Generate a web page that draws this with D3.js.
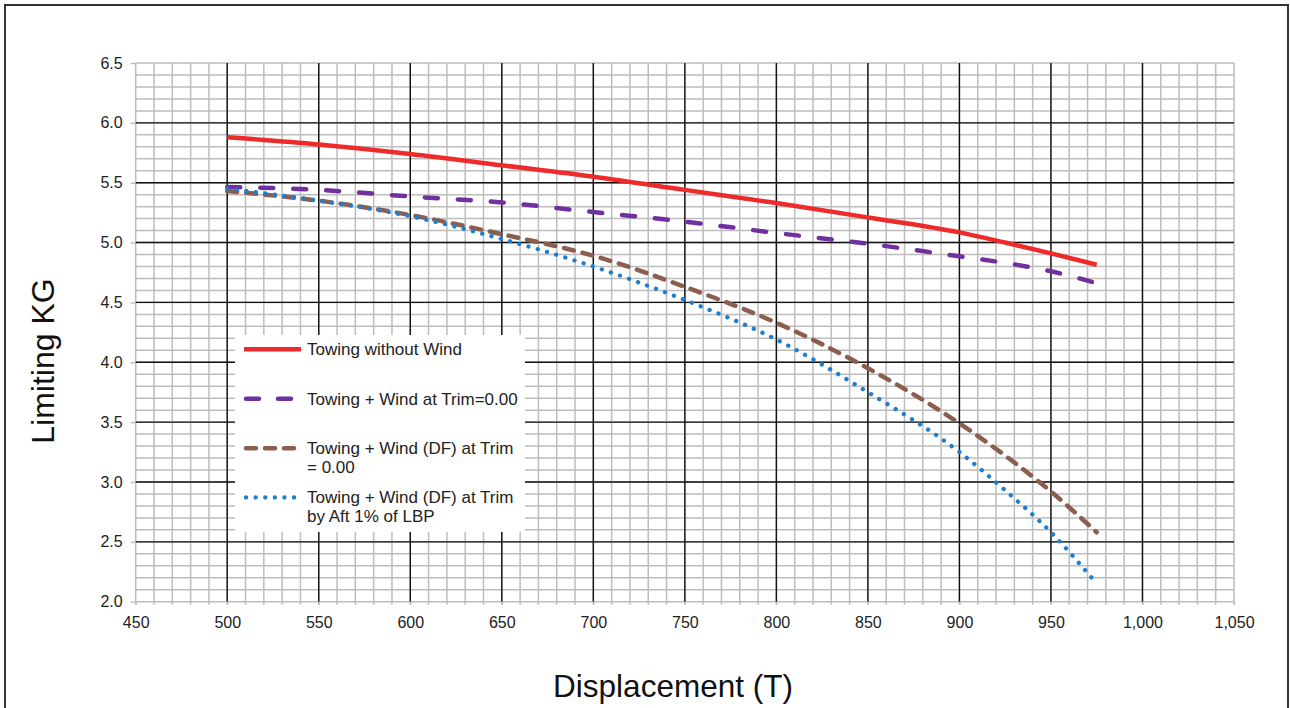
<!DOCTYPE html>
<html>
<head>
<meta charset="utf-8">
<script src="https://cdn.jsdelivr.net/npm/d3@7"></script>
<style>
  body { margin: 0; background: #fff; }
  text { font-family: "Liberation Sans", Arial, sans-serif; }
</style>
</head>
<body>
<svg width="1290" height="708"></svg>
<script>
// displacement (T) values
let displacement = [500, 550, 600, 650, 700, 750, 800, 850, 900, 925, 950, 975];

let towingNoWind = [5.88, 5.82, 5.74, 5.645, 5.55, 5.44, 5.33, 5.21, 5.085, 5.0, 4.91, 4.815];
let towingWind = [5.465, 5.44, 5.385, 5.335, 5.255, 5.175, 5.08, 4.99, 4.885, 4.83, 4.76, 4.66];
let towingWindDF = [5.43, 5.35, 5.23, 5.07, 4.89, 4.63, 4.33, 3.95, 3.49, 3.22, 2.92, 2.58];
let towingWindDFAft = [5.45, 5.35, 5.22, 5.03, 4.8, 4.52, 4.19, 3.75, 3.25, 2.93, 2.58, 2.15];

let seriesNames = [
  ['Towing without Wind'],
  ['Towing + Wind at Trim=0.00'],
  ['Towing + Wind (DF) at Trim', '= 0.00'],
  ['Towing + Wind (DF) at Trim', 'by Aft 1% of LBP'],
];

let xTicks = d3.range(450, 1051, 50);
let yTicks = d3.range(20, 66, 5).map((d) => d / 10);

let svg = d3.select('svg');

let x = d3.scaleLinear().domain([450, 1050]).range([135.7, 1234]);
let y = d3.scaleLinear().domain([2, 6.5]).range([601.7, 63]);

// outer frame
svg.append('rect')
  .attr('x', 5).attr('y', 5)
  .attr('width', 1283).attr('height', 720)
  .attr('fill', 'none')
  .attr('stroke', '#333')
  .attr('stroke-width', 2);

// grid
let grid = svg.append('g').classed('grid', true);
let minorX = d3.range(450, 1051, 10);
let minorY = d3.range(20, 66, 1).map((d) => d / 10);

grid.selectAll('line.mx').data(minorX).enter().append('line')
  .attr('x1', (d) => x(d)).attr('x2', (d) => x(d))
  .attr('y1', y(6.5)).attr('y2', y(2) + 3)
  .attr('stroke', '#bdbdbd').attr('stroke-width', 1.5);

grid.selectAll('line.my').data(minorY).enter().append('line')
  .attr('y1', (d) => y(d)).attr('y2', (d) => y(d))
  .attr('x1', x(450)).attr('x2', x(1050))
  .attr('stroke', '#bdbdbd').attr('stroke-width', 1.5);

grid.selectAll('line.Mx').data(xTicks.filter((d) => d > 450 && d < 1050)).enter().append('line')
  .attr('x1', (d) => x(d)).attr('x2', (d) => x(d))
  .attr('y1', y(6.5)).attr('y2', y(2))
  .attr('stroke', '#111').attr('stroke-width', 1.4);

grid.selectAll('line.My').data(yTicks.filter((d) => d > 2 && d < 6.5)).enter().append('line')
  .attr('y1', (d) => y(d)).attr('y2', (d) => y(d))
  .attr('x1', x(450)).attr('x2', x(1050))
  .attr('stroke', '#111').attr('stroke-width', 1.4);

// axes
let yAxis = svg.append('g')
  .attr('transform', `translate(${x(450)},0)`)
  .call(d3.axisLeft(y).tickValues(yTicks).tickSize(5).tickPadding(8).tickFormat(d3.format('.1f')));

let xAxis = svg.append('g')
  .attr('transform', `translate(0,${y(2)})`)
  .call(d3.axisBottom(x).tickValues(xTicks).tickSize(3).tickPadding(12).tickFormat(d3.format(',')));

[yAxis, xAxis].forEach((ax) => {
  ax.select('.domain').remove();
  ax.selectAll('.tick line').attr('stroke', '#bdbdbd').attr('stroke-width', 1.5);
  ax.selectAll('.tick text').attr('font-size', 16).attr('fill', '#222')
    .style('font-family', '"Liberation Sans", Arial, sans-serif');
});

// axis titles
svg.append('text')
  .attr('transform', 'translate(54,361) rotate(-90)')
  .attr('text-anchor', 'middle')
  .attr('font-size', 32)
  .attr('fill', '#111')
  .text('Limiting KG');

svg.append('text')
  .attr('x', 673).attr('y', 697)
  .attr('text-anchor', 'middle')
  .attr('font-size', 31.5)
  .attr('fill', '#111')
  .text('Displacement (T)');

// series
let styles = [
  { color: '#ee2a2a', width: 4.5, dash: null, cap: 'butt' },
  { color: '#7030a0', width: 4.5, dash: '13,20', cap: 'round' },
  { color: '#8b5e50', width: 4.5, dash: '10,9', cap: 'round' },
  { color: '#1f7fcf', width: 4.3, dash: '0.1,9.5', cap: 'round' },
];
let seriesValues = [towingNoWind, towingWind, towingWindDF, towingWindDFAft];

let line = d3.line()
  .x((d) => x(d[0]))
  .y((d) => y(d[1]))
  .curve(d3.curveMonotoneX);

let lineGp = svg.append('g').classed('lines', true);
seriesValues.forEach((vals, i) => {
  let s = styles[i];
  lineGp.append('path')
    .datum(displacement.map((d, j) => [d, vals[j]]))
    .attr('d', line)
    .attr('fill', 'none')
    .attr('stroke', s.color)
    .attr('stroke-width', s.width)
    .attr('stroke-dasharray', s.dash)
    .attr('stroke-linecap', s.cap);
});

// legend
let legend = svg.append('g').classed('legend', true);
legend.append('rect')
  .attr('x', 235).attr('y', 335)
  .attr('width', 290).attr('height', 197)
  .attr('fill', '#fff');

let legendY = [349.3, 398.8, 448.3, 497.5];
seriesNames.forEach((lines, i) => {
  let s = styles[i];
  let cy = legendY[i];
  legend.append('line')
    .attr('x1', i === 0 ? 244 : 246).attr('x2', i === 0 ? 301 : 299)
    .attr('y1', cy).attr('y2', cy)
    .attr('stroke', s.color)
    .attr('stroke-width', s.width)
    .attr('stroke-dasharray', i === 1 ? '13,19' : s.dash)
    .attr('stroke-linecap', s.cap);
  let t = legend.append('text')
    .attr('x', 307).attr('y', cy)
    .attr('font-size', 17)
    .attr('fill', '#222');
  lines.forEach((l, k) => {
    t.append('tspan')
      .attr('x', 307)
      .attr('dy', k === 0 ? '0.35em' : 19)
      .text(l);
  });
});
</script>
</body>
</html>
